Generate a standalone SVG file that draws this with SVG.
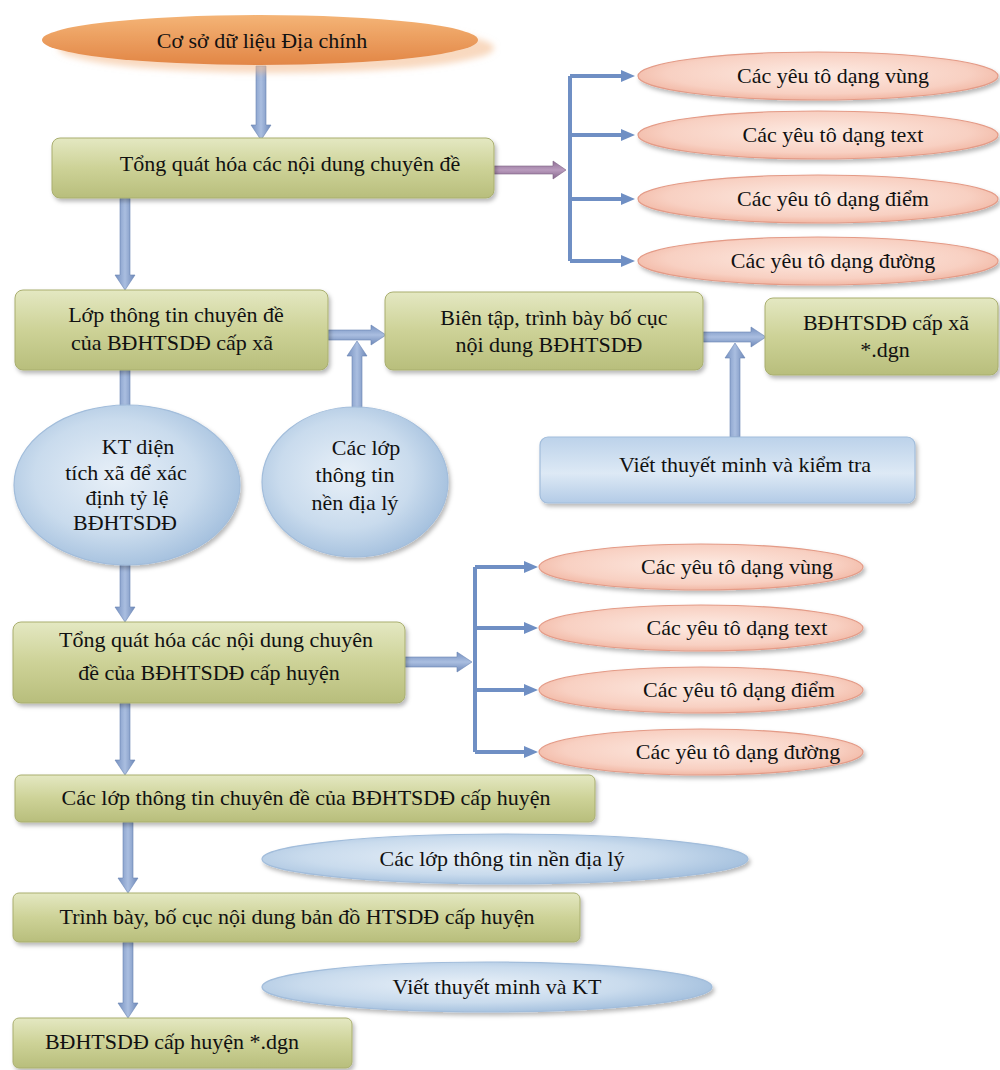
<svg xmlns="http://www.w3.org/2000/svg" width="1000" height="1070" viewBox="0 0 1000 1070" font-family="'Liberation Serif', 'Times New Roman', serif">
<style>
text{font-family:'Liberation Serif','Times New Roman',serif;font-size:22px;fill:#111;text-anchor:middle}
.box{fill:url(#gGreen);stroke:#a9ae6f;stroke-width:1;filter:url(#sh)}
.pink{fill:url(#gPink);stroke:#e49b87;stroke-width:1.2;filter:url(#sh)}
.blue{fill:url(#gBlue);stroke:#a2bddb;stroke-width:1.2;filter:url(#sh)}
.av{fill:url(#gArrV);stroke:#6a84b4;stroke-width:0.6}
.ah{fill:url(#gArrH);stroke:#6a84b4;stroke-width:0.6}
.br{fill:none;stroke:#6f8fc4;stroke-width:4}
.bra{fill:none;stroke:#6f8fc4;stroke-width:4;marker-end:url(#tri)}
</style>
<defs>
<filter id="sh" x="-10%" y="-20%" width="125%" height="150%">
<feDropShadow dx="2" dy="3" stdDeviation="2" flood-color="#000" flood-opacity="0.28"/>
</filter>
<filter id="shO" x="-10%" y="-30%" width="130%" height="180%">
<feDropShadow dx="16" dy="8" stdDeviation="3" flood-color="#f3b98a" flood-opacity="0.55"/>
</filter>
<linearGradient id="gGreen" x1="0" y1="0" x2="0" y2="1">
<stop offset="0" stop-color="#e4e8c2"/><stop offset="0.5" stop-color="#cdd297"/><stop offset="1" stop-color="#b8be7c"/>
</linearGradient>
<radialGradient id="gPink" cx="0.5" cy="0.45" r="0.6">
<stop offset="0" stop-color="#fdebe3"/><stop offset="0.7" stop-color="#f8d0c2"/><stop offset="1" stop-color="#efae99"/>
</radialGradient>
<radialGradient id="gBlue" cx="0.45" cy="0.45" r="0.6">
<stop offset="0" stop-color="#e8f0f8"/><stop offset="0.6" stop-color="#c9dbed"/><stop offset="1" stop-color="#a0bddc"/>
</radialGradient>
<linearGradient id="gBlueBox" x1="0" y1="0" x2="0" y2="1">
<stop offset="0" stop-color="#bcd2ea"/><stop offset="0.55" stop-color="#dde9f5"/><stop offset="1" stop-color="#b3cbe6"/>
</linearGradient>
<linearGradient id="gOrange" x1="0" y1="0" x2="0" y2="1">
<stop offset="0" stop-color="#f4b476"/><stop offset="1" stop-color="#e28646"/>
</linearGradient>
<linearGradient id="gArrV" x1="0" y1="0" x2="1" y2="0">
<stop offset="0" stop-color="#7590c0"/><stop offset="0.5" stop-color="#aabee0"/><stop offset="1" stop-color="#6d88b8"/>
</linearGradient>
<linearGradient id="gArrH" x1="0" y1="0" x2="0" y2="1">
<stop offset="0" stop-color="#7590c0"/><stop offset="0.5" stop-color="#aabee0"/><stop offset="1" stop-color="#6d88b8"/>
</linearGradient>
<linearGradient id="gPurple" x1="0" y1="0" x2="0" y2="1">
<stop offset="0" stop-color="#8f6f95"/><stop offset="0.5" stop-color="#b99bbd"/><stop offset="1" stop-color="#86678c"/>
</linearGradient>
<marker id="tri" viewBox="0 0 14 12" refX="4" refY="6" markerWidth="14" markerHeight="12" markerUnits="userSpaceOnUse" orient="auto">
<path d="M0,0 L14,6 L0,12 Z" fill="#6f8fc4"/>
</marker>
</defs>
<rect width="1000" height="1070" fill="#ffffff"/>

<g id="connectors">
<path class="av" d="M256,66 H266 V125 H271 L261,140 L251,125 H256 Z"/>
<path class="av" d="M120,198 H130 V275 H135 L125,290 L115,275 H120 Z"/>
<path d="M494,166 V174 H553 V179 L566,170 L553,161 V166 Z" fill="url(#gPurple)" stroke="#7e6184" stroke-width="0.6"/>
<path class="br" d="M570,76 V261"/>
<path class="bra" d="M570,76 H625"/>
<path class="bra" d="M570,135 H625"/>
<path class="bra" d="M570,199 H625"/>
<path class="bra" d="M570,261 H625"/>
<path class="ah" d="M328,330 V340 H371 V345 L386,335 L371,325 V330 Z"/>
<path class="av" d="M352,408 V356 H347 L357,341 L367,356 H362 V408 Z"/>
<path class="ah" d="M703,332 V342 H751 V347 L766,337 L751,327 V332 Z"/>
<path class="av" d="M730,437 V358 H725 L735,343 L745,358 H740 V437 Z"/>
<path class="av" d="M120,370 H130 V607 H135 L125,622 L115,607 H120 Z"/>
<path class="ah" d="M405,657 V667 H457 V672 L472,662 L457,652 V657 Z"/>
<path class="br" d="M475,567 V752"/>
<path class="bra" d="M475,567 H528"/>
<path class="bra" d="M475,628 H528"/>
<path class="bra" d="M475,690 H528"/>
<path class="bra" d="M475,752 H528"/>
<path class="av" d="M120,703 H130 V760 H135 L125,775 L115,760 H120 Z"/>
<path class="av" d="M123,822 H133 V878 H138 L128,893 L118,878 H123 Z"/>
<path class="av" d="M123,942 H133 V1003 H138 L128,1018 L118,1003 H123 Z"/>
</g>

<g id="n-csdl">
<ellipse cx="260" cy="40" rx="218" ry="25" fill="url(#gOrange)" filter="url(#shO)"/>
<text x="262" y="48">Cơ sở dữ liệu Địa chính</text>
</g>
<g id="n-tqh1">
<rect class="box" x="52" y="138" width="442" height="60" rx="8"/>
<text x="290" y="171">Tổng quát hóa các nội dung chuyên đề</text>
</g>
<g id="n-e1">
<ellipse class="pink" cx="818" cy="76" rx="180" ry="24"/>
<text x="833" y="83">Các yêu tô dạng vùng</text>
</g>
<g id="n-e2">
<ellipse class="pink" cx="818" cy="135" rx="180" ry="24"/>
<text x="833" y="142">Các yêu tô dạng text</text>
</g>
<g id="n-e3">
<ellipse class="pink" cx="818" cy="199" rx="180" ry="24"/>
<text x="833" y="206">Các yêu tô dạng điểm</text>
</g>
<g id="n-e4">
<ellipse class="pink" cx="818" cy="261" rx="180" ry="24"/>
<text x="833" y="268">Các yêu tô dạng đường</text>
</g>
<g id="n-lop-xa">
<rect class="box" x="15" y="290" width="313" height="80" rx="8"/>
<text x="176" y="322">Lớp thông tin chuyên đề</text>
<text x="172" y="350">của BĐHTSDĐ cấp xã</text>
</g>
<g id="n-bientap">
<rect class="box" x="385" y="292" width="318" height="78" rx="8"/>
<text x="554" y="325">Biên tập, trình bày bố cục</text>
<text x="549" y="352">nội dung BĐHTSDĐ</text>
</g>
<g id="n-bd-xa">
<rect class="box" x="765" y="298" width="233" height="77" rx="8"/>
<text x="886" y="330">BĐHTSDĐ cấp xã</text>
<text x="885" y="357">*.dgn</text>
</g>
<g id="n-viet-kt-xa">
<rect x="540" y="437" width="375" height="66" rx="8" fill="url(#gBlueBox)" stroke="#a2bddb" stroke-width="1.2" filter="url(#sh)"/>
<text x="745" y="472">Viết thuyết minh và kiểm tra</text>
</g>
<g id="n-kt-dientich">
<ellipse class="blue" cx="127" cy="485" rx="113" ry="80"/>
<text x="138" y="454">KT diện</text>
<text x="126" y="480">tích xã để xác</text>
<text x="127" y="505">định tỷ lệ</text>
<text x="125" y="530">BĐHTSDĐ</text>
</g>
<g id="n-nen-xa">
<ellipse class="blue" cx="355" cy="482" rx="93" ry="75"/>
<text x="366" y="455">Các lớp</text>
<text x="355" y="482">thông tin</text>
<text x="355" y="510">nền địa lý</text>
</g>
<g id="n-tqh2">
<rect class="box" x="13" y="622" width="392" height="81" rx="8"/>
<text x="216" y="647">Tổng quát hóa các nội dung chuyên</text>
<text x="209" y="680">đề của BĐHTSDĐ cấp huyện</text>
</g>
<g id="n-f1">
<ellipse class="pink" cx="701" cy="567" rx="162" ry="23"/>
<text x="737" y="574">Các yêu tô dạng vùng</text>
</g>
<g id="n-f2">
<ellipse class="pink" cx="701" cy="628" rx="162" ry="23"/>
<text x="737" y="635">Các yêu tô dạng text</text>
</g>
<g id="n-f3">
<ellipse class="pink" cx="701" cy="690" rx="162" ry="23"/>
<text x="739" y="697">Các yêu tô dạng điểm</text>
</g>
<g id="n-f4">
<ellipse class="pink" cx="701" cy="752" rx="162" ry="23"/>
<text x="738" y="759">Các yêu tô dạng đường</text>
</g>
<g id="n-lop-huyen">
<rect class="box" x="15" y="775" width="580" height="47" rx="6"/>
<text x="306" y="805">Các lớp thông tin chuyên đề của BĐHTSDĐ cấp huyện</text>
</g>
<g id="n-nen-huyen">
<ellipse class="blue" cx="505" cy="859" rx="243" ry="25"/>
<text x="502" y="866">Các lớp thông tin nền địa lý</text>
</g>
<g id="n-trinhbay">
<rect class="box" x="13" y="893" width="567" height="49" rx="6"/>
<text x="297" y="924">Trình bày, bố cục nội dung bản đồ HTSDĐ cấp huyện</text>
</g>
<g id="n-viet-kt-huyen">
<ellipse class="blue" cx="487" cy="987" rx="225" ry="25"/>
<text x="497" y="994">Viết thuyết minh và KT</text>
</g>
<g id="n-bd-huyen">
<rect class="box" x="13" y="1018" width="339" height="50" rx="6"/>
<text x="172" y="1049">BĐHTSDĐ cấp huyện *.dgn</text>
</g>
</svg>
